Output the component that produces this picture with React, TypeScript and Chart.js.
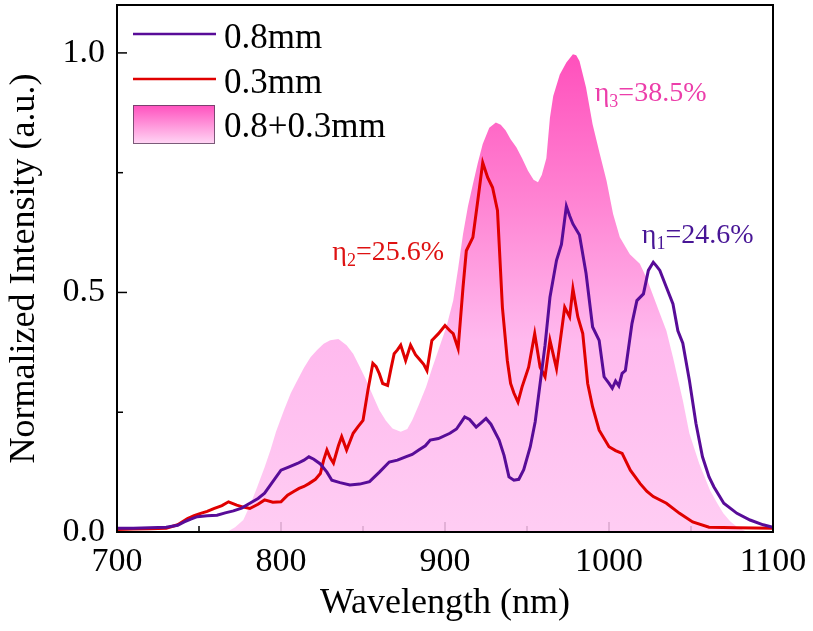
import { useEffect, useRef } from "react"
import { Chart, registerables } from "chart.js"

Chart.register(...registerables)

const FONT = "'Liberation Serif', 'Times New Roman', serif"

// 0.8mm sample
const wl08 = [
  700, 710, 720, 730, 737, 741, 745, 749, 755, 761, 766, 771, 776, 781, 786, 790, 795, 800, 805, 810,
  814, 817, 820, 824, 828, 831, 836, 842, 848, 854, 860, 866, 871, 876, 880, 884, 888, 891, 896, 903,
  907, 910, 912, 915, 919, 922, 925, 928, 933, 936, 939, 942, 945, 948, 952, 955, 958, 961, 964, 968,
  971, 974, 976, 978, 982, 986, 990, 994, 997, 1000, 1002, 1004, 1006, 1008, 1010, 1014, 1017, 1021,
  1024, 1027, 1029, 1031, 1035, 1039, 1042, 1045, 1049, 1053, 1057, 1061, 1064, 1070, 1078, 1086,
  1094, 1100,
]
const int08 = [
  0.008, 0.008, 0.009, 0.01, 0.014, 0.021, 0.027, 0.032, 0.034, 0.035, 0.04, 0.044, 0.05, 0.06, 0.07,
  0.081, 0.105, 0.129, 0.136, 0.143, 0.15, 0.157, 0.152, 0.142, 0.125, 0.108, 0.103, 0.098, 0.1, 0.105,
  0.125, 0.146, 0.15, 0.157, 0.162, 0.171, 0.18, 0.192, 0.195, 0.206, 0.215, 0.23, 0.24, 0.235, 0.219,
  0.228, 0.237, 0.225, 0.192, 0.16, 0.115, 0.108, 0.11, 0.13, 0.178, 0.23, 0.31, 0.39, 0.49, 0.567,
  0.6, 0.68, 0.66, 0.643, 0.62, 0.54, 0.428, 0.4, 0.324, 0.31, 0.3, 0.315, 0.305, 0.331, 0.337, 0.435,
  0.483, 0.497, 0.546, 0.563, 0.555, 0.546, 0.511, 0.476, 0.42, 0.394, 0.317, 0.227, 0.157, 0.115,
  0.094, 0.06, 0.039, 0.025, 0.015, 0.01,
]

// 0.3mm sample
const wl03 = [
  700, 710, 720, 730, 737, 743, 747, 751, 755, 759, 764, 768, 773, 777, 781, 786, 790, 795, 800, 804,
  808, 811, 814, 817, 821, 824, 826, 828, 830, 832, 835, 837, 840, 844, 847, 850, 853, 856, 858, 860,
  862, 865, 867, 869, 871, 873, 876, 879, 882, 884, 887, 889, 892, 896, 900, 903, 905, 908, 911, 913,
  917, 920, 923, 926, 929, 932, 935, 938, 940, 942, 944.5, 947, 951, 954.7, 958, 961, 964, 968, 973,
  976, 978, 981, 984, 987, 990, 994, 1000, 1004, 1008, 1013, 1019, 1023, 1027, 1035, 1043, 1051,
  1061, 1078, 1100,
]
const int03 = [
  0.005, 0.006, 0.007, 0.008, 0.015, 0.028, 0.034, 0.039, 0.043, 0.049, 0.055, 0.063, 0.056, 0.052,
  0.049, 0.058, 0.067, 0.062, 0.063, 0.077, 0.085, 0.091, 0.095, 0.101, 0.11, 0.122, 0.15, 0.171,
  0.155, 0.144, 0.18, 0.199, 0.171, 0.206, 0.22, 0.233, 0.296, 0.352, 0.345, 0.33, 0.31, 0.306, 0.34,
  0.372, 0.38, 0.39, 0.358, 0.39, 0.37, 0.362, 0.35, 0.337, 0.4, 0.414, 0.431, 0.42, 0.414, 0.383,
  0.511, 0.587, 0.615, 0.692, 0.771, 0.74, 0.719, 0.671, 0.469, 0.358, 0.31, 0.29, 0.271, 0.303,
  0.344, 0.414, 0.344, 0.324, 0.4, 0.341, 0.469, 0.449, 0.508, 0.449, 0.414, 0.31, 0.261, 0.2125,
  0.178, 0.17, 0.164, 0.129, 0.101, 0.085, 0.074, 0.06, 0.039, 0.021, 0.01, 0.009, 0.008,
]

// 0.8+0.3mm combined
const wlMix = [
  700, 760, 767, 772, 777, 781, 785.5, 790, 793.6, 797, 801.8, 806, 810, 814, 818, 822, 826, 830, 835,
  840, 844, 848, 852, 856, 860, 864, 868, 873, 877, 880, 884, 888.5, 892, 896.6, 901, 905, 908, 911,
  914, 917, 920, 923, 927, 931, 934, 937, 940, 943.5, 947, 950.6, 954, 956.7, 959, 961.8, 964, 966,
  970, 974, 978, 980, 982, 986, 990, 994.4, 998.5, 1002.5, 1006.6, 1012.7, 1018.8, 1022.9, 1025,
  1031, 1035, 1039, 1045, 1049, 1055, 1061.5, 1066, 1069.7, 1074, 1078, 1083, 1090, 1100,
]
const intMix = [
  0, 0, 0, 0.01, 0.025, 0.055, 0.094, 0.135, 0.171, 0.21, 0.254, 0.29, 0.317, 0.343, 0.365, 0.38,
  0.393, 0.4, 0.403, 0.39, 0.372, 0.345, 0.317, 0.285, 0.254, 0.232, 0.216, 0.209, 0.215, 0.233, 0.265,
  0.303, 0.34, 0.386, 0.43, 0.483, 0.55, 0.622, 0.68, 0.726, 0.77, 0.81, 0.844, 0.855, 0.85, 0.838,
  0.82, 0.803, 0.78, 0.754, 0.735, 0.73, 0.745, 0.78, 0.865, 0.91, 0.955, 0.98, 0.997, 0.995, 0.983,
  0.928, 0.851, 0.789, 0.733, 0.664, 0.615, 0.58, 0.56, 0.53, 0.511, 0.456, 0.42, 0.365, 0.275, 0.206,
  0.143, 0.0875, 0.06, 0.039, 0.022, 0.011, 0.002, 0, 0,
]

const xTicks = [700, 800, 900, 1000, 1100]
const xMinor = [750, 850, 950, 1050]
const yTicks = [0, 0.5, 1.0]
const yMinor = [0.25, 0.75]

const labels = ["0.8mm", "0.3mm", "0.8+0.3mm"]
// efficiency annotations
const etaSubs = ["3", "2", "1"]
const etaTexts = ["=38.5%", "=25.6%", "=24.6%"]
const etaX = [991.3, 831.3, 1020]
const etaY = [0.9, 0.567, 0.604]

const PURPLE = "rgb(88,12,152)"
const RED = "rgb(224,0,0)"
const etaColors = ["rgb(236,62,170)", "rgb(222,18,18)", "rgb(72,22,150)"]

const toPoints = (xs: number[], ys: number[]) => xs.map((x, i) => ({ x, y: ys[i] }))

const decor = {
  id: "decor",
  beforeDatasetsDraw(chart: any) {
    const { ctx, chartArea: a, scales } = chart
    ctx.save()
    ctx.strokeStyle = "#000"
    ctx.lineWidth = 1.5
    const tick = (x1: number, y1: number, x2: number, y2: number) => {
      ctx.beginPath()
      ctx.moveTo(x1, y1)
      ctx.lineTo(x2, y2)
      ctx.stroke()
    }
    xTicks.forEach((v) => { const x = scales.x.getPixelForValue(v); tick(x, a.bottom, x, a.bottom - 10) })
    xMinor.forEach((v) => { const x = scales.x.getPixelForValue(v); tick(x, a.bottom, x, a.bottom - 6) })
    yTicks.forEach((v) => { const y = scales.y.getPixelForValue(v); tick(a.left, y, a.left + 10, y) })
    yMinor.forEach((v) => { const y = scales.y.getPixelForValue(v); tick(a.left, y, a.left + 6, y) })
    ctx.restore()
  },
  afterDatasetsDraw(chart: any) {
    const { ctx, chartArea: a, scales } = chart
    ctx.save()
    ctx.strokeStyle = "#000"
    ctx.lineWidth = 2
    ctx.strokeRect(a.left, a.top, a.right - a.left, a.bottom - a.top)

    // legend
    const lx = a.left + 16
    ctx.lineWidth = 2.5
    ctx.strokeStyle = PURPLE
    ctx.beginPath(); ctx.moveTo(lx, 34); ctx.lineTo(lx + 83, 34); ctx.stroke()
    ctx.strokeStyle = RED
    ctx.beginPath(); ctx.moveTo(lx, 79); ctx.lineTo(lx + 83, 79); ctx.stroke()
    const g = ctx.createLinearGradient(0, 105, 0, 144)
    g.addColorStop(0, "rgb(255,80,190)")
    g.addColorStop(1, "rgb(255,215,245)")
    ctx.fillStyle = g
    ctx.fillRect(lx, 105, 82, 39)
    ctx.strokeStyle = "rgba(90,60,90,0.8)"
    ctx.lineWidth = 1
    ctx.strokeRect(lx + 0.5, 105.5, 81, 38)
    ctx.fillStyle = "#000"
    ctx.font = `35px ${FONT}`
    ctx.textBaseline = "alphabetic"
    ctx.textAlign = "left"
    ctx.fillText(labels[0], lx + 91, 48)
    ctx.fillText(labels[1], lx + 91, 93)
    ctx.fillText(labels[2], lx + 91, 137)

    // efficiencies
    etaTexts.forEach((t, i) => {
      const x = scales.x.getPixelForValue(etaX[i])
      const y = scales.y.getPixelForValue(etaY[i])
      ctx.fillStyle = etaColors[i]
      ctx.font = `28px ${FONT}`
      ctx.fillText("η", x, y)
      let cx = x + ctx.measureText("η").width
      ctx.font = `18px ${FONT}`
      ctx.fillText(etaSubs[i], cx, y + 6)
      cx += ctx.measureText(etaSubs[i]).width
      ctx.font = `28px ${FONT}`
      ctx.fillText(t, cx, y)
    })
    ctx.restore()
  },
}

export default function App() {
  const chartRef = useRef<HTMLCanvasElement>(null)
  const chartInstance = useRef<Chart | null>(null)

  useEffect(() => {
    document.body.style.margin = "0"
    if (!chartRef.current) return
    const ctx = chartRef.current.getContext("2d")
    if (!ctx) return
    if (chartInstance.current) chartInstance.current.destroy()

    chartInstance.current = new Chart(ctx, {
      type: "line",
      data: {
        datasets: [
          {
            label: labels[0],
            data: toPoints(wl08, int08),
            borderColor: PURPLE,
            borderWidth: 3,
            pointRadius: 0,
            fill: false,
          },
          {
            label: labels[1],
            data: toPoints(wl03, int03),
            borderColor: RED,
            borderWidth: 3,
            pointRadius: 0,
            fill: false,
          },
          {
            label: labels[2],
            data: toPoints(wlMix, intMix),
            borderWidth: 0,
            pointRadius: 0,
            fill: "origin",
            backgroundColor: (c: any) => {
              const chart = c.chart
              if (!chart.chartArea) return "rgba(255,150,220,0.85)"
              const y = chart.scales.y
              const grad = chart.ctx.createLinearGradient(0, y.getPixelForValue(1), 0, y.getPixelForValue(0))
              grad.addColorStop(0, "rgba(255,49,176,0.85)")
              grad.addColorStop(0.3, "rgba(255,108,202,0.85)")
              grad.addColorStop(0.6, "rgba(255,173,235,0.85)")
              grad.addColorStop(1, "rgba(255,196,241,0.85)")
              return grad
            },
          },
        ],
      },
      options: {
        responsive: true,
        maintainAspectRatio: false,
        animation: false,
        layout: { padding: { top: 5, right: 40, left: 0, bottom: 0 } },
        scales: {
          x: {
            type: "linear",
            min: 700,
            max: 1100,
            grid: { display: false, drawTicks: false },
            border: { display: false },
            afterBuildTicks: (s: any) => { s.ticks = xTicks.map((value) => ({ value })) },
            afterFit: (s: any) => {
              s.height = 99
              s.paddingLeft = 0
              s.paddingRight = 0
            },
            ticks: {
              color: "#000",
              font: { family: FONT, size: 34 },
              padding: 10,
              maxRotation: 0,
              callback: (v: any) => `${v}`,
            },
            title: {
              display: true,
              text: "Wavelength (nm)",
              color: "#000",
              font: { family: FONT, size: 36 },
              padding: { top: 0, bottom: 6 },
            },
          },
          y: {
            type: "linear",
            min: 0,
            max: 1.1,
            grid: { display: false, drawTicks: false },
            border: { display: false },
            afterBuildTicks: (s: any) => { s.ticks = yTicks.map((value) => ({ value })) },
            afterFit: (s: any) => {
              s.width = 117
              s.paddingTop = 0
              s.paddingBottom = 0
            },
            ticks: {
              color: "#000",
              font: { family: FONT, size: 34 },
              padding: 12,
              callback: (v: any) => Number(v).toFixed(1),
            },
            title: {
              display: true,
              text: "Normalized Intensity (a.u.)",
              color: "#000",
              font: { family: FONT, size: 36 },
              padding: { top: 3, bottom: 0 },
            },
          },
        },
        plugins: {
          legend: { display: false },
          tooltip: { enabled: false },
        },
      },
      plugins: [decor],
    })

    return () => {
      if (chartInstance.current) chartInstance.current.destroy()
      chartInstance.current = null
    }
  }, [])

  return (
    <div style={{ width: 813, height: 631, position: "relative", background: "#fff" }}>
      <canvas ref={chartRef}></canvas>
    </div>
  )
}
